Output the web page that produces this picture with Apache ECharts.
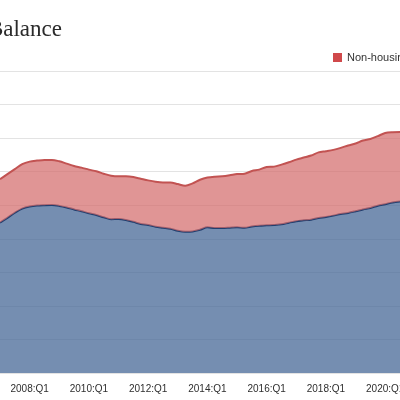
<!DOCTYPE html>
<html><head><meta charset="utf-8">
<script src="https://cdn.jsdelivr.net/npm/echarts@6/dist/echarts.min.js"></script>
<style>html,body{margin:0;padding:0;background:#fff}#c{width:400px;height:400px}</style>
</head><body><div id="c"></div>
<script>
var quarters = ["2007:Q1","2007:Q2","2007:Q3","2007:Q4","2008:Q1","2008:Q2","2008:Q3","2008:Q4","2009:Q1","2009:Q2","2009:Q3","2009:Q4","2010:Q1","2010:Q2","2010:Q3","2010:Q4","2011:Q1","2011:Q2","2011:Q3","2011:Q4","2012:Q1","2012:Q2","2012:Q3","2012:Q4","2013:Q1","2013:Q2","2013:Q3","2013:Q4","2014:Q1","2014:Q2","2014:Q3","2014:Q4","2015:Q1","2015:Q2","2015:Q3","2015:Q4","2016:Q1","2016:Q2","2016:Q3","2016:Q4","2017:Q1","2017:Q2","2017:Q3","2017:Q4","2018:Q1","2018:Q2","2018:Q3","2018:Q4","2019:Q1","2019:Q2","2019:Q3","2019:Q4","2020:Q1","2020:Q2","2020:Q3"];
var housing = [8.96,9.25,9.55,9.80,9.92,9.98,10.00,10.01,9.96,9.87,9.75,9.64,9.52,9.42,9.28,9.17,9.18,9.12,9.01,8.88,8.82,8.72,8.66,8.60,8.48,8.42,8.44,8.54,8.68,8.64,8.64,8.66,8.68,8.65,8.73,8.78,8.80,8.82,8.86,8.96,9.05,9.10,9.14,9.24,9.30,9.38,9.48,9.54,9.64,9.75,9.84,9.97,10.06,10.16,10.22];
var nonHousing = [2.59,2.60,2.60,2.65,2.68,2.68,2.70,2.69,2.66,2.61,2.59,2.60,2.60,2.60,2.60,2.59,2.54,2.60,2.67,2.70,2.66,2.68,2.70,2.76,2.78,2.74,2.86,2.98,2.97,3.06,3.08,3.12,3.18,3.23,3.31,3.34,3.48,3.48,3.56,3.60,3.67,3.74,3.82,3.91,3.92,3.92,3.94,4.02,4.04,4.11,4.11,4.15,4.24,4.19,4.14];
var yTicks = {min: 0, max: 18, interval: 2};
var titleText = "Total Debt Balance";

var chart = echarts.init(document.getElementById('c'), null, {renderer: 'canvas'});
chart.setOption({
  animation: false,
  graphic: [{
    type: 'text', right: 338, top: 18,
    style: {text: titleText, font: '23px "Liberation Serif", serif', fill: '#2b2b2b'}
  }],
  legend: {
    data: ['Non-housing'], left: 328, top: 47,
    icon: 'rect', itemWidth: 9, itemHeight: 9, itemGap: 10,
    textStyle: {fontFamily: '"Liberation Sans", Arial, sans-serif', fontSize: 11, color: '#333'}
  },
  grid: {left: 0, right: 0, top: 71, bottom: 27, outerBoundsMode: 'none', containLabel: false},
  xAxis: {
    type: 'category', data: quarters, boundaryGap: false,
    axisLine: {show: false}, axisTick: {show: false},
    axisLabel: {
      interval: function (i, v) { var y = parseInt(v.slice(0,4), 10); return v.slice(5) === 'Q1' && y % 2 === 0; },
      fontFamily: '"Liberation Sans", Arial, sans-serif', fontSize: 10, color: '#2e2e2e', margin: 11,
      hideOverlap: false
    }
  },
  yAxis: {
    type: 'value', min: yTicks.min, max: yTicks.max, interval: yTicks.interval,
    axisLabel: {show: false}, axisLine: {show: false}, axisTick: {show: false},
    splitLine: {lineStyle: {color: '#e3e3e3', width: 1}}
  },
  series: [{
    name: 'Housing', type: 'line', stack: 'total', data: housing, smooth: 0.3,
    symbol: 'none', z: 2,
    lineStyle: {color: '#233f6e', width: 2},
    itemStyle: {color: '#233f6e'},
    areaStyle: {color: '#4a6b98', opacity: 0.76}
  }, {
    name: 'Non-housing', type: 'line', stack: 'total', data: nonHousing, smooth: 0.3,
    symbol: 'none', z: 3,
    lineStyle: {color: '#c25352', width: 2},
    itemStyle: {color: '#d0494b'},
    areaStyle: {color: '#d46c6c', opacity: 0.72}
  }]
});
</script></body></html>
